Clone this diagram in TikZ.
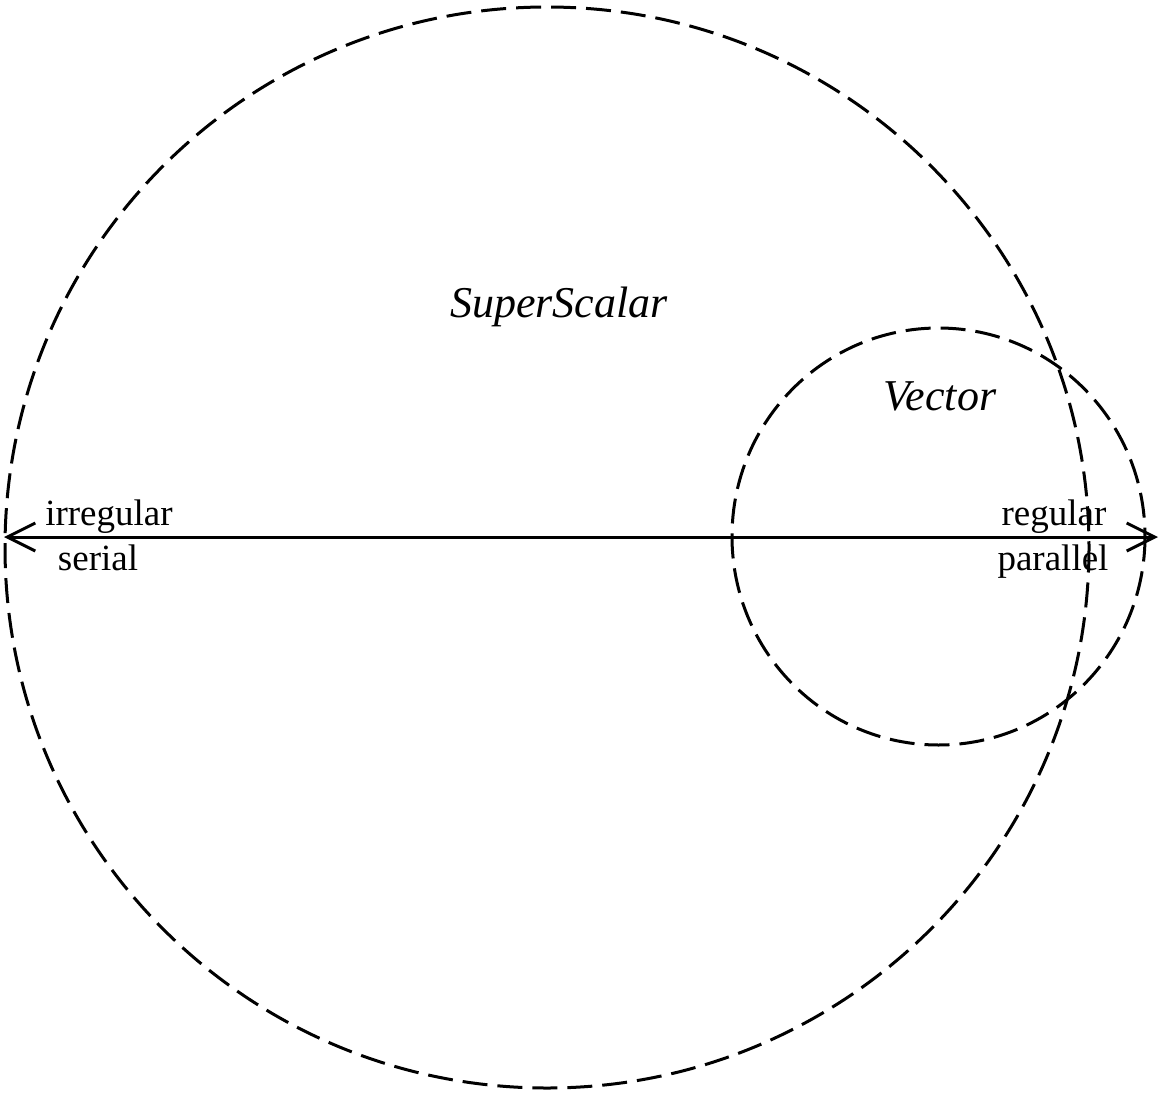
\documentclass[tikz,border=0pt]{standalone}
\usepackage{fontspec}
\setmainfont{Liberation Serif}
\usetikzlibrary{arrows.meta}
\begin{document}
\begin{tikzpicture}[x=1pt,y=-1pt,
  dashcircle/.style={draw, line width=3pt, dash pattern=on 25pt off 10pt},
  lbl/.style={inner sep=0pt, font=\fontsize{37}{40}\selectfont, anchor=base},
  itlbl/.style={inner sep=0pt, font=\fontsize{44}{48}\selectfont\itshape, anchor=base}]
\useasboundingbox (0,0) rectangle (1160,1095);
\draw[dashcircle] (547,547.5) ellipse [x radius=542, y radius=540.5];
\draw[dashcircle] (938.5,536.5) ellipse [x radius=206.5, y radius=208.5];
\coordinate (L) at (4,537);
\coordinate (R) at (1158,537);
\draw[line width=3pt, {Straight Barb[length=28pt,width=28pt]}-{Straight Barb[length=28pt,width=28pt]}] (L) -- (R);
\node[itlbl] (ss) at (559,317) {SuperScalar};
\node[itlbl] (vec) at (940,410) {Vector};
\node[lbl] (irr) at (109,525) {irregular};
\node[lbl] (ser) at (98,570) {serial};
\node[lbl] (reg) at (1054,525) {regular};
\node[lbl] (par) at (1053,570) {parallel};
\end{tikzpicture}
\end{document}
